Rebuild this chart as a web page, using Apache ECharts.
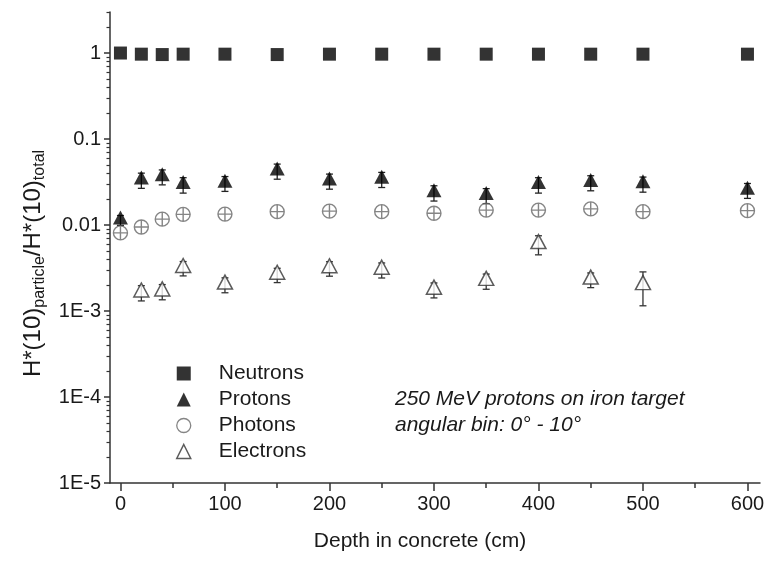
<!DOCTYPE html>
<html><head><meta charset="utf-8">
<script src="https://cdn.jsdelivr.net/npm/echarts@6/dist/echarts.min.js"></script>
<style>html,body{margin:0;padding:0;background:#fff}#c{width:768px;height:561px}</style>
</head><body><div id="c"></div>
<script>
// ---- data ----
const depths = [0, 20, 40, 60, 100, 150, 200, 250, 300, 350, 400, 450, 500, 600];
const neutrons = [1.0, 0.97, 0.96, 0.97, 0.97, 0.96, 0.97, 0.97, 0.97, 0.97, 0.97, 0.97, 0.97, 0.97];
const protons = [0.0114, 0.0334, 0.0365, 0.0295, 0.0306, 0.0426, 0.0326, 0.0341, 0.0238, 0.0221, 0.0295, 0.0312, 0.0301, 0.0254];
const protonErr = [0.0015, 0.0067, 0.0072, 0.006, 0.006, 0.0085, 0.0065, 0.0068, 0.0048, 0.0044, 0.006, 0.0062, 0.006, 0.005];
const photons = [0.0081, 0.0095, 0.0117, 0.0133, 0.0134, 0.0143, 0.0145, 0.0143, 0.0137, 0.0149, 0.0149, 0.0154, 0.0143, 0.0147];
const electronDepths = [20, 40, 60, 100, 150, 200, 250, 300, 350, 400, 450, 500];
const electrons = [0.00164, 0.00169, 0.00316, 0.00203, 0.00264, 0.00314, 0.00302, 0.00177, 0.00224, 0.006, 0.00232, 0.002];
const electronErr = [0.00033, 0.00034, 0.0006, 0.0004, 0.0005, 0.0006, 0.0006, 0.00035, 0.00045, 0.0015, 0.00045, 0.00085];
const seriesNames = ['Neutrons', 'Protons', 'Photons', 'Electrons'];
const xMajorTicks = [0, 100, 200, 300, 400, 500, 600];
const xMinorTicks = [50, 150, 250, 350, 450, 550];
const yMajorTicks = [1e-5, 1e-4, 1e-3, 0.01, 0.1, 1];
const yTickLabels = ['1E-5', '1E-4', '1E-3', '0.01', '0.1', '1'];
const yMinorTicks = [];
[1e-5, 1e-4, 1e-3, 1e-2, 1e-1, 1].forEach(d => { for (let k = 2; k <= 9; k++) { const v = +(d * k).toPrecision(3); if (v <= 3) yMinorTicks.push(v); } });
const annotation = ['250 MeV protons on iron target', 'angular bin: 0° - 10°'];

// ---- chart ----
const FONT = '"Liberation Sans", Arial, sans-serif';
const TXT = '#1a1a1a';
const AX = '#333';
const chart = echarts.init(document.getElementById('c'), null, {renderer: 'canvas'});

function errSeries(xs, vals, errs, color) {
  return {
    type: 'custom', z: 1, silent: true, xAxisIndex: 0, yAxisIndex: 0,
    data: xs.map((x, i) => [x, vals[i] - errs[i], vals[i] + errs[i]]),
    encode: {x: 0, y: [1, 2]},
    renderItem: function (params, api) {
      const lo = api.coord([api.value(0), api.value(1)]);
      const hi = api.coord([api.value(0), api.value(2)]);
      const w = 3.5;
      const st = {stroke: color, lineWidth: 1.3};
      return {type: 'group', children: [
        {type: 'line', shape: {x1: lo[0], y1: lo[1], x2: hi[0], y2: hi[1]}, style: st},
        {type: 'line', shape: {x1: lo[0] - w, y1: lo[1], x2: lo[0] + w, y2: lo[1]}, style: st},
        {type: 'line', shape: {x1: hi[0] - w, y1: hi[1], x2: hi[0] + w, y2: hi[1]}, style: st}
      ]};
    }
  };
}

const circlePlus = 'path://M0,-10 A10,10 0 1,1 0,10 A10,10 0 1,1 0,-10 Z M-10,0 L10,0 M0,-10 L0,10';

const option = {
  animation: false,
  backgroundColor: '#fff',
  grid: {left: 110, right: 8, top: 12, bottom: 78, containLabel: false},
  xAxis: [{
    type: 'value', min: -10, max: 612, position: 'bottom',
    name: 'Depth in concrete (cm)', nameLocation: 'middle', nameGap: 48,
    nameTextStyle: {fontFamily: FONT, fontSize: 21, color: TXT, padding: [0, 30, 0, 0]},
    axisLine: {show: true, onZero: false, lineStyle: {color: AX, width: 1.5}},
    axisTick: {show: true, inside: false, length: 8, customValues: xMajorTicks, lineStyle: {color: AX, width: 1.5}},
    axisLabel: {customValues: xMajorTicks, margin: 11, fontFamily: FONT, fontSize: 20, color: TXT},
    splitLine: {show: false}
  }, {
    type: 'value', min: -10, max: 612, position: 'bottom',
    axisLine: {show: false, onZero: false},
    axisTick: {show: true, inside: false, length: 5, customValues: xMinorTicks, lineStyle: {color: AX, width: 1.5}},
    axisLabel: {show: false},
    splitLine: {show: false}
  }],
  yAxis: [{
    type: 'log', logBase: 10, min: 1e-5, max: 3, position: 'left',
    name: '{m|H*(10)}{s|particle}{m|/H*(10)}{s|total}', nameLocation: 'middle', nameGap: 60, nameRotate: 90,
    nameTextStyle: {fontFamily: FONT, color: TXT, padding: [0, 32, 0, 0],
      rich: {m: {fontFamily: FONT, fontSize: 24, color: TXT}, s: {fontFamily: FONT, fontSize: 16, color: TXT, padding: [13, 0, 0, 0]}}},
    axisLine: {show: true, onZero: false, lineStyle: {color: AX, width: 1.5}},
    axisTick: {show: true, inside: false, length: 6, customValues: yMajorTicks, lineStyle: {color: AX, width: 1.5}},
    axisLabel: {customValues: yMajorTicks, margin: 9, fontFamily: FONT, fontSize: 20, color: TXT,
      formatter: function (v) { const i = yMajorTicks.findIndex(t => Math.abs(Math.log10(t) - Math.log10(v)) < 1e-6); return i >= 0 ? yTickLabels[i] : ''; }},
    splitLine: {show: false}, minorTick: {show: false}
  }, {
    type: 'log', logBase: 10, min: 1e-5, max: 3, position: 'left',
    axisLine: {show: false, onZero: false},
    axisTick: {show: true, inside: false, length: 3.5, customValues: yMinorTicks, lineStyle: {color: AX, width: 1.2}},
    axisLabel: {show: false},
    splitLine: {show: false}
  }],
  legend: {
    orient: 'vertical', left: 171, top: 358, itemWidth: 14, itemHeight: 14, itemGap: 5,
    textStyle: {fontFamily: FONT, fontSize: 21, color: TXT, lineHeight: 21, padding: [0, 0, 0, 23]},
    data: [
      {name: 'Neutrons', icon: 'rect', itemStyle: {color: '#000'}},
      {name: 'Protons', icon: 'triangle', itemStyle: {color: '#000'}},
      {name: 'Photons', icon: 'circle', itemStyle: {color: 'rgba(0,0,0,0)', borderColor: '#666', borderWidth: 1.3}},
      {name: 'Electrons', icon: 'triangle', itemStyle: {color: '#fff', borderColor: '#333', borderWidth: 1.5}}
    ]
  },
  graphic: [{
    type: 'text', left: 395, top: 386,
    style: {text: annotation.join('\n'), font: 'italic 21px ' + FONT, fill: TXT, lineHeight: 26}
  }],
  series: [
    errSeries(depths, protons, protonErr, '#222'),
    errSeries(electronDepths, electrons, electronErr, '#333'),
    {name: seriesNames[0], type: 'scatter', z: 3, symbol: 'rect', symbolSize: 13,
      itemStyle: {color: '#000'}, data: depths.map((x, i) => [x, neutrons[i]])},
    {name: seriesNames[1], type: 'scatter', z: 3, symbol: 'triangle', symbolSize: [15, 14], symbolOffset: [0, -2.5],
      itemStyle: {color: '#000'}, data: depths.map((x, i) => [x, protons[i]])},
    {name: seriesNames[2], type: 'scatter', z: 3, symbol: circlePlus, symbolSize: 14,
      itemStyle: {color: 'rgba(0,0,0,0)', borderColor: '#666', borderWidth: 1.4}, data: depths.map((x, i) => [x, photons[i]])},
    {name: seriesNames[3], type: 'scatter', z: 3, symbol: 'triangle', symbolSize: [15, 14], symbolOffset: [0, -2.5],
      itemStyle: {color: '#fff', borderColor: '#333', borderWidth: 1.5}, data: electronDepths.map((x, i) => [x, electrons[i]])}
  ]
};
chart.setOption(option);
</script>
</body></html>
